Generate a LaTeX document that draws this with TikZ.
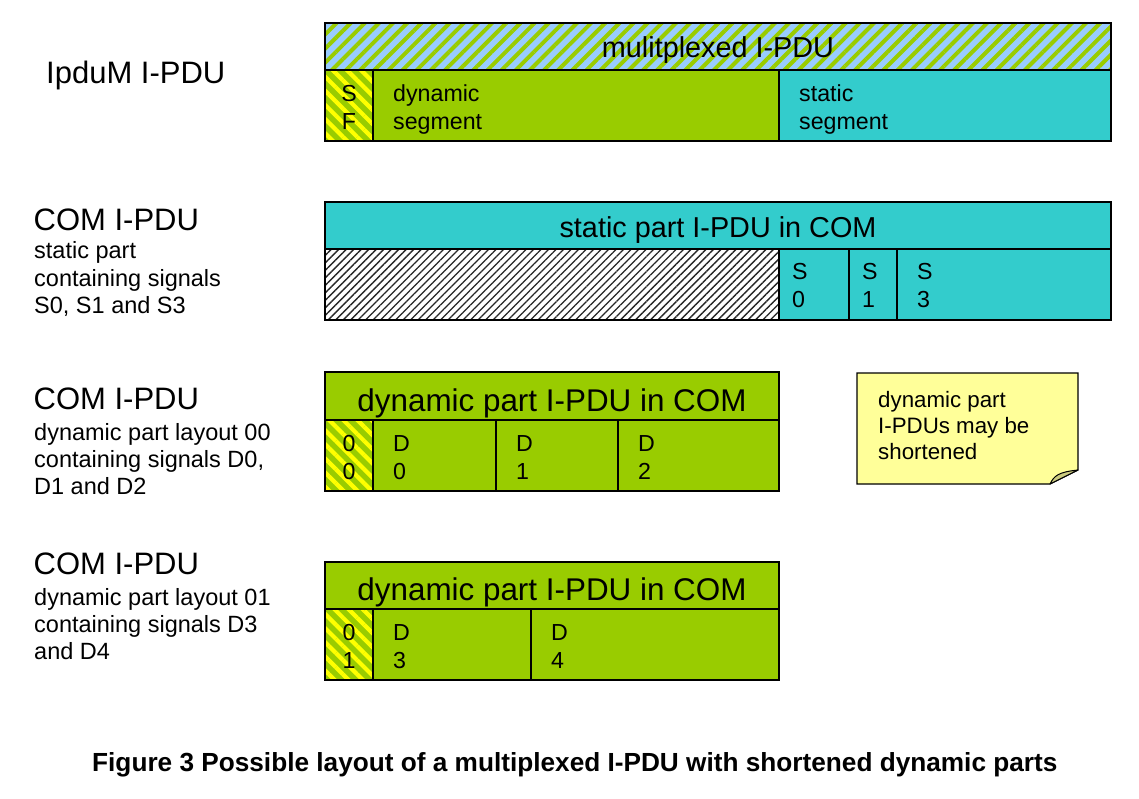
\documentclass[tikz,border=0pt]{standalone}
\usepackage{fontspec}
\setmainfont{Liberation Sans}
\usetikzlibrary{patterns.meta,calc}
\definecolor{pgreen}{HTML}{99CC00}
\definecolor{pcyan}{HTML}{33CCCC}
\definecolor{pblue}{HTML}{99CCFF}
\definecolor{pyellow}{HTML}{FFFF00}
\definecolor{pnote}{HTML}{FFFF99}
\definecolor{pflap}{HTML}{CCCC80}
\begin{document}
\begin{tikzpicture}[x=1pt,y=-1pt,
  box/.style={draw=black, line width=2pt, rectangle, inner sep=0pt, outer sep=0pt, anchor=north west},
  greenbox/.style={box, fill=pgreen},
  cyanbox/.style={box, fill=pcyan},
  muxbox/.style={box, preaction={fill=pblue}, pattern={Lines[angle=45,distance=10pt,line width=4pt]}, pattern color=pgreen},
  selbox/.style={box, preaction={fill=pgreen}, pattern={Lines[angle=-45,distance=10pt,line width=4.2pt]}, pattern color=pyellow},
  hatchbox/.style={box, preaction={fill=white}, pattern={Lines[angle=45,distance=5.3pt,line width=1.3pt]}, pattern color=black!85},
  big/.style={font=\fontsize{31}{36}\selectfont, inner sep=0pt, anchor=base west},
  small/.style={font=\fontsize{23.5}{27}\selectfont, inner sep=0pt, anchor=base west},
  celltxt/.style={font=\fontsize{23.2}{27}\selectfont, inner sep=0pt, anchor=base west},
  cellctr/.style={font=\fontsize{23.2}{27}\selectfont, inner sep=0pt, anchor=base},
  title/.style={font=\fontsize{28.8}{34}\selectfont, inner sep=0pt, anchor=base},
  dtitle/.style={font=\fontsize{31.4}{36}\selectfont, inner sep=0pt, anchor=base},
  notetxt/.style={font=\fontsize{22.3}{26}\selectfont, inner sep=0pt, anchor=base west},
  captxt/.style={font=\fontsize{26.2}{30}\selectfont\bfseries, inner sep=0pt, anchor=base west}
]
\useasboundingbox (0,0) rectangle (1139,798);

% ---- left labels
\node[big] (l1) at (46,83) {IpduM I-PDU};
\node[big] (l2) at (33.5,230) {COM I-PDU};
\node[small] (l2a) at (34,258) {static part};
\node[small] (l2b) at (34,286) {containing signals};
\node[small] (l2c) at (34,313) {S0, S1 and S3};
\node[big] (l3) at (33.5,409) {COM I-PDU};
\node[small] (l3a) at (34,440) {dynamic part layout 00};
\node[small] (l3b) at (34,467) {containing signals D0,};
\node[small] (l3c) at (34,494) {D1 and D2};
\node[big] (l4) at (33.5,574) {COM I-PDU};
\node[small] (l4a) at (34,605) {dynamic part layout 01};
\node[small] (l4b) at (34,632) {containing signals D3};
\node[small] (l4c) at (34,659) {and D4};

% ---- IpduM I-PDU
\node[muxbox, minimum width=786, minimum height=47] (mux) at (325,23) {};
\node[title] (muxt) at (718,57.5) {mulitplexed I-PDU};
\node[selbox, minimum width=48, minimum height=71] (sf) at (325,70) {};
\node[greenbox, minimum width=406, minimum height=71] (dseg) at (373,70) {};
\node[cyanbox, minimum width=332, minimum height=71] (sseg) at (779,70) {};
\node[cellctr] (sft1) at (349,101) {S};
\node[cellctr] (sft2) at (349,129) {F};
\node[celltxt] (dsegt1) at (393,101) {dynamic};
\node[celltxt] (dsegt2) at (393,129) {segment};
\node[celltxt] (ssegt1) at (799,101) {static};
\node[celltxt] (ssegt2) at (799,129) {segment};

% ---- COM static part
\node[cyanbox, minimum width=786, minimum height=47] (stat) at (325,202) {};
\node[title] (statt) at (718,237) {static part I-PDU in COM};
\node[hatchbox, minimum width=454, minimum height=71] (hatch) at (325,249) {};
\node[cyanbox, minimum width=70, minimum height=71] (s0) at (779,249) {};
\node[cyanbox, minimum width=48, minimum height=71] (s1) at (849,249) {};
\node[cyanbox, minimum width=214, minimum height=71] (s3) at (897,249) {};
\node[celltxt] (s0a) at (792,279) {S};
\node[celltxt] (s0b) at (792,307) {0};
\node[celltxt] (s1a) at (862,279) {S};
\node[celltxt] (s1b) at (862,307) {1};
\node[celltxt] (s3a) at (917,279) {S};
\node[celltxt] (s3b) at (917,307) {3};

% ---- COM dynamic layout 00
\node[greenbox, minimum width=454, minimum height=48] (dyn0) at (325,372) {};
\node[dtitle] (dyn0t) at (552,411) {dynamic part I-PDU in COM};
\node[selbox, minimum width=48, minimum height=71] (sel0) at (325,420) {};
\node[greenbox, minimum width=123, minimum height=71] (d0) at (373,420) {};
\node[greenbox, minimum width=122, minimum height=71] (d1) at (496,420) {};
\node[greenbox, minimum width=161, minimum height=71] (d2) at (618,420) {};
\node[cellctr] (sel0a) at (349,451) {0};
\node[cellctr] (sel0b) at (349,479) {0};
\node[celltxt] (d0a) at (393,451) {D};
\node[celltxt] (d0b) at (393,479) {0};
\node[celltxt] (d1a) at (516,451) {D};
\node[celltxt] (d1b) at (516,479) {1};
\node[celltxt] (d2a) at (638,451) {D};
\node[celltxt] (d2b) at (638,479) {2};

% ---- COM dynamic layout 01
\node[greenbox, minimum width=454, minimum height=47] (dyn1) at (325,562) {};
\node[dtitle] (dyn1t) at (552,600) {dynamic part I-PDU in COM};
\node[selbox, minimum width=48, minimum height=71] (sel1) at (325,609) {};
\node[greenbox, minimum width=158, minimum height=71] (d3) at (373,609) {};
\node[greenbox, minimum width=248, minimum height=71] (d4) at (531,609) {};
\node[cellctr] (sel1a) at (349,640) {0};
\node[cellctr] (sel1b) at (349,668) {1};
\node[celltxt] (d3a) at (393,640) {D};
\node[celltxt] (d3b) at (393,668) {3};
\node[celltxt] (d4a) at (551,640) {D};
\node[celltxt] (d4b) at (551,668) {4};

% ---- note
\node[rectangle, inner sep=0pt, outer sep=0pt, anchor=north west, minimum width=221, minimum height=111] (note) at (857,373) {};
\draw[fill=pnote, line width=1.2pt, line join=miter]
  (note.north west) -- (note.north east) -- ($(note.south east)+(0,-14)$)
  -- ($(note.south east)+(-28,0)$) -- (note.south west) -- cycle;
\draw[fill=pflap, line width=1pt, line join=round]
  ($(note.south east)+(-28,0)$) .. controls ($(note.south east)+(-24,-8)$) and ($(note.south east)+(-20,-12)$) .. ($(note.south east)+(0,-14)$) -- cycle;
\node[notetxt] (n1) at (878,407) {dynamic part};
\node[notetxt] (n2) at (878,433) {I-PDUs may be};
\node[notetxt] (n3) at (878,459) {shortened};

% ---- caption
\node[captxt] (cap) at (92,771) {Figure 3 Possible layout of a multiplexed I-PDU with shortened dynamic parts};
\end{tikzpicture}
\end{document}
